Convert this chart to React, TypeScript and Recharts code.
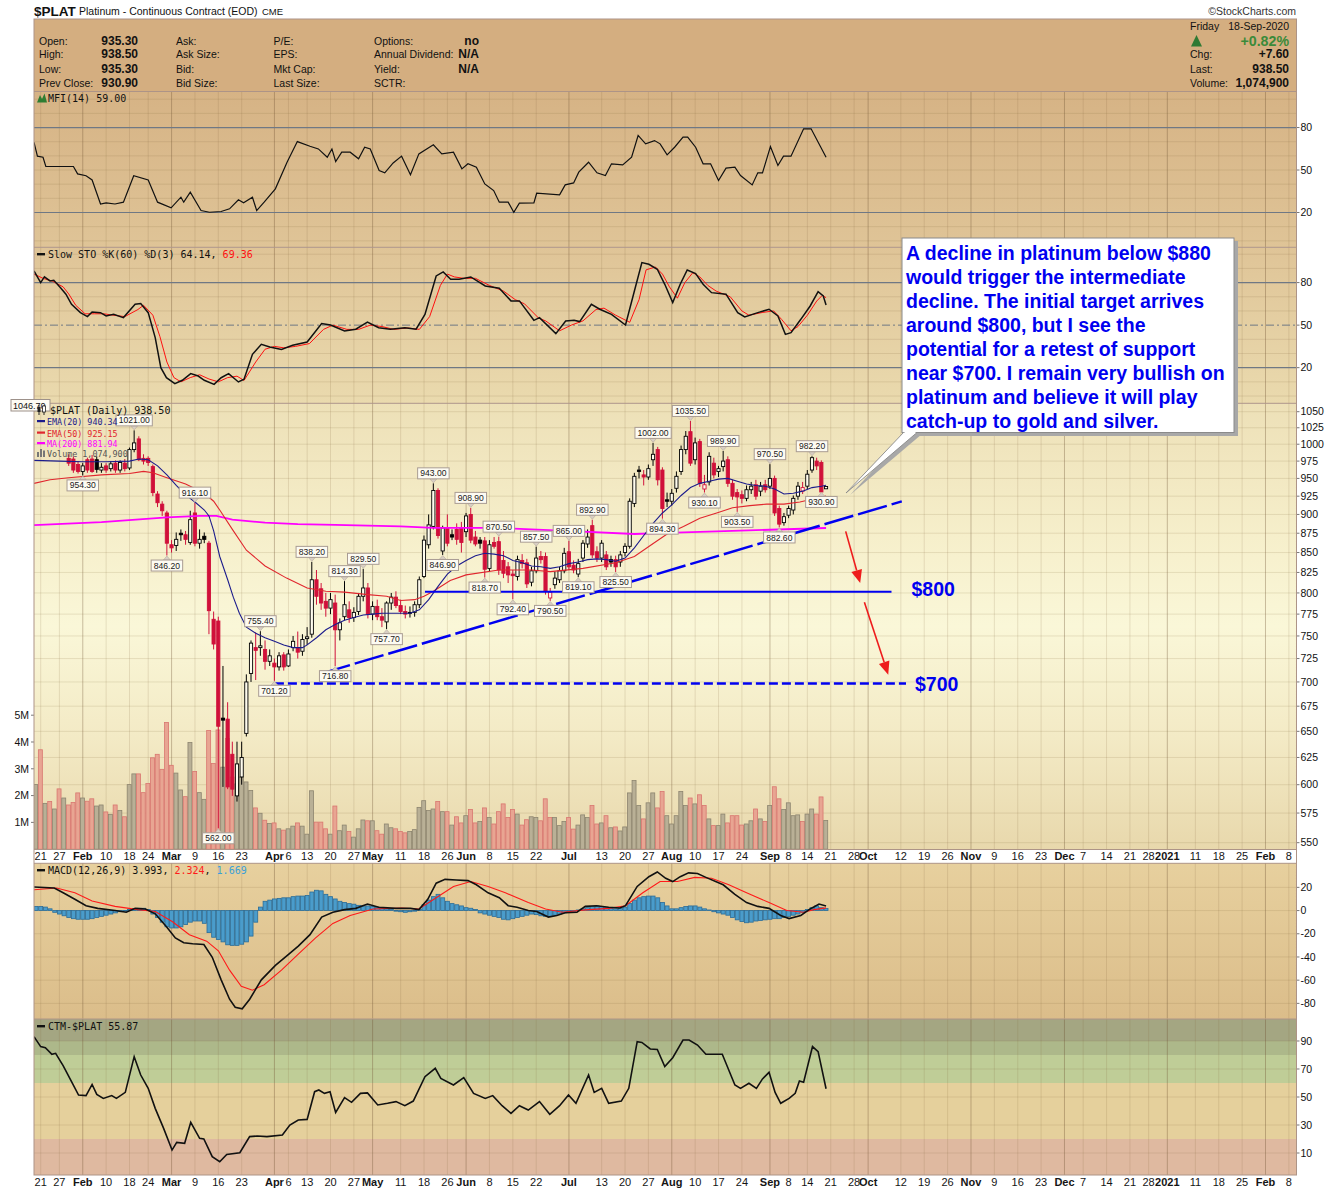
import React from 'react';
import { ComposedChart, Line, Bar, Cell, Scatter, XAxis, YAxis, ReferenceLine, ReferenceArea } from 'recharts';

// ---------- page geometry ----------
const W = 1340;
const H = 1192;
const PL = 34; // plot left
const PR = 1296.5; // plot right
const AXW = W - PR; // right axis width
const DAY_W = 4.675; // width of one trading day in pixels

const MFI_Y = 91.5, MFI_H = 155.8;
const STO_Y = 247.3, STO_H = 156;
const PX_Y = 403.3, PX_H = 446.2;
const MACD_Y = 863.3, MACD_H = 155.7;
const CTM_Y = 1019, CTM_H = 156;

const X_DOMAIN: [number, number] = [-0.428, 269.63];
const PRICE_DOMAIN: [number, number] = [544.66, 1063.8];
const OSC_DOMAIN: [number, number] = [-4.92, 105.1];
const MACD_DOMAIN: [number, number] = [-93.2, 41.0];
const CTM_DOMAIN: [number, number] = [-5.71, 105.71];
const VOL_MAX = 16.65; // millions

// ---------- data ----------
// trading-day index 0 = 17-Jan-2020, 169 = 18-Sep-2020
const FIRST_CANDLE = 7;
// [open, high, low, close] from index 7
const candles = [
  [979, 985, 968, 972], [978, 982, 958, 962], [970, 975, 957, 960], [960, 972, 954.3, 968], [977, 980, 958, 962],
  [978, 984, 958, 960], [977, 982, 958, 963], [962, 972, 958, 966], [968, 972, 958, 962], [964, 975, 960, 971],
  [972, 976, 958, 962], [962, 976, 958, 973], [972, 978, 960, 964], [965, 995, 962, 992], [992, 1021, 988, 1002],
  [1008, 1012, 975, 977], [979, 985, 970, 975], [979, 982, 968, 973], [967, 970, 925, 930], [928, 932, 910, 916],
  [914, 918, 898, 905], [902, 905, 846.2, 862], [860, 866, 850, 856], [859, 876, 852, 867], [875, 880, 865, 873],
  [873, 878, 860, 867], [863, 905, 860, 893], [902, 916.1, 858, 862], [862, 880, 855, 867], [871, 876, 862, 867],
  [862, 865, 752, 779], [769, 778, 735, 741], [767, 772, 562, 655], [663, 717, 598, 661], [662, 679, 596, 598],
  [628, 640, 590, 596], [590, 640, 585, 619], [607, 640, 600, 625], [648, 708, 645, 700], [709, 745, 700, 742],
  [737, 754, 702, 734], [737, 755.4, 728, 739], [735, 745, 713, 722], [722, 735, 717, 728], [720, 725, 701.2, 716],
  [716, 732, 712, 728], [729, 732, 712, 716], [717, 735, 716, 730], [737, 750, 733, 744], [737, 755, 725, 732],
  [733, 752, 728, 746], [747, 760, 740, 749], [752, 838.2, 748, 816], [816, 828, 786, 796], [805, 812, 780, 788],
  [790, 800, 772, 782], [782, 800, 775, 792], [788, 798, 716.8, 757], [757, 770, 745, 765], [772, 814.3, 768, 786],
  [780, 790, 765, 771], [771, 783, 766, 777], [778, 800, 774, 796], [796, 829.5, 790, 806], [806, 812, 770, 775],
  [775, 790, 768, 784], [784, 792, 768, 772], [772, 782, 760, 768], [766, 790, 757.7, 788], [788, 800, 780, 795],
  [795, 802, 782, 785], [785, 792, 775, 778], [778, 785, 770, 775], [777, 784, 771, 776], [777, 790, 772, 786],
  [786, 820, 782, 816], [820, 872, 818, 866], [860, 900, 855, 886], [884, 943, 880, 933], [933, 936, 868, 872],
  [852, 885, 846.9, 882], [882, 900, 858, 862], [873, 880, 866, 870], [880, 888, 860, 867], [882, 890, 850, 863],
  [877, 902, 870, 898], [900, 908.9, 862, 866], [870, 878, 858, 861], [866, 870, 855, 862], [865, 870, 818.7, 829],
  [830, 866, 826, 860], [863, 870, 855, 858], [864, 870.5, 822, 828], [840, 852, 818, 824], [832, 838, 812, 822],
  [823, 828, 792.4, 821], [820, 846, 815, 841], [840, 848, 830, 836], [837, 842, 806, 811], [813, 832, 808, 827],
  [827, 857.5, 824, 843], [845, 852, 836, 841], [845, 850, 798, 802], [794, 806, 790.5, 801], [810, 826, 805, 818],
  [816, 832, 812, 827], [827, 856, 824, 849], [851, 865, 828, 832], [834, 840, 824, 828], [823, 842, 819.1, 836],
  [843, 866, 838, 862], [861, 880, 856, 870], [885, 892.9, 843, 847], [851, 858, 838, 843], [843, 866, 838, 862],
  [847, 852, 828, 832], [841, 846, 832, 838], [841, 846, 825.5, 832], [838, 852, 832, 847], [850, 862, 845, 858],
  [858, 922, 855, 918], [915, 958, 910, 953], [962, 968, 950, 960], [955, 962, 940, 952], [952, 970, 948, 964],
  [977, 1002, 968, 985], [992, 996, 940, 948], [962, 966, 894.3, 908], [920, 930, 910, 918], [918, 935, 912, 929],
  [936, 960, 930, 953], [960, 998, 955, 992], [992, 1020, 985, 1012], [1019, 1035.5, 968, 972], [977, 1010, 970, 1002],
  [1004, 1008, 938, 943], [935, 955, 930.1, 941], [945, 988, 940, 982], [972, 980, 950, 955], [960, 968, 952, 964],
  [967, 989.9, 960, 975], [977, 982, 938, 943], [943, 948, 920, 925], [930, 935, 903.5, 924], [927, 933, 915, 922],
  [922, 940, 918, 934], [934, 945, 928, 939], [941, 948, 920, 925], [932, 945, 925, 939], [941, 948, 930, 934],
  [939, 970.5, 935, 950], [950, 954, 898, 902], [908, 912, 882.6, 887], [889, 902, 885, 897], [899, 912, 895, 908],
  [906, 926, 900, 922], [925, 945, 920, 939], [932, 945, 928, 937], [939, 962, 935, 956], [962, 982.2, 958, 980],
  [975, 980, 962, 968], [973, 976, 930.9, 930.9], [935.3, 938.5, 935.3, 938.5],
];

// daily volume in millions, index 0..169
const volumeM = [
  2.41, 3.71, 1.71, 1.78, 1.5, 2.25, 1.91, 1.65, 1.74, 2.1,
  1.91, 1.79, 1.88, 1.61, 1.65, 1.39, 1.3, 1.65, 1.44, 1.21,
  2.41, 2.81, 2.81, 2.11, 2.45, 3.41, 3.54, 2.98, 4.73, 3.13,
  2.84, 2.21, 1.96, 3.98, 2.9, 2.11, 1.86, 4.43, 3.2, 4.45,
  3.06, 4.13, 2.69, 2.44, 2.69, 2.51, 2.19, 1.54, 1.34, 1.08,
  0.96, 0.98, 0.76, 0.71, 0.76, 0.86, 0.98, 0.86, 0.56, 2.18,
  1.01, 1.01, 0.76, 0.56, 1.61, 0.69, 0.9, 0.66, 0.45, 0.76,
  1.09, 1.06, 1.06, 0.69, 0.56, 0.94, 0.8, 0.76, 0.66, 0.61,
  0.66, 0.73, 1.56, 1.81, 1.44, 1.5, 1.78, 1.4, 1.4, 0.9,
  1.21, 0.98, 1.25, 1.48, 0.98, 1.03, 1.54, 1.18, 0.94, 1.4,
  1.69, 1.18, 1.48, 1.31, 0.9, 1.1, 1.21, 1.18, 1.06, 1.88,
  1.18, 1.18, 0.88, 1.03, 1.18, 0.75, 0.9, 1.28, 1.18, 1.63,
  0.94, 0.98, 1.25, 0.8, 0.83, 0.68, 0.83, 2.1, 2.56, 1.63,
  1.13, 1.73, 2.1, 1.54, 2.15, 1.25, 0.94, 1.25, 2.15, 1.63,
  1.91, 1.69, 2.03, 1.63, 1.13, 0.88, 0.88, 1.31, 0.98, 1.25,
  1.25, 0.9, 0.94, 1.06, 1.5, 1.13, 1.03, 1.63, 2.33, 1.88,
  1.48, 1.73, 1.25, 1.28, 1.03, 1.31, 1.5, 1.31, 1.95, 1.07,
];
// volume bar direction for the days before the first drawn candle
const earlyVolUp = [true, false, true, false, true, false, true];

// MACD histogram, index 0..169
const macdHist = [
  3.5, 3.5, 3, 1.5, -1.5, -3, -4.5, -6, -7, -7.5,
  -7.5, -7.5, -7, -6, -5, -4, -3, -2, -1, 0,
  1, 1.5, 2, 2, 1, -3, -6, -10, -14, -15,
  -15, -14, -12, -10, -9, -9, -11, -19, -23, -25,
  -27, -29.5, -30, -30, -29, -27, -22, -10, 3, 8,
  9, 10, 10.5, 11, 11, 12, 12.5, 12.5, 13, 16,
  17.5, 17, 14, 12, 10, 8, 7, 6, 5.5, 4.5,
  4, 4, 3.5, 3, 2, 1.5, 1, 0, -1, -1.5,
  -1, 0, 1, 5, 9, 12, 14, 11, 8, 6,
  5, 4, 2.5, 2, 1, -2, -3, -4, -5, -6,
  -7.5, -8, -7, -6, -5, -4, -3, -3.5, -4.5, -5,
  -5, -4, -3, -2, -1.5, -1, 0.5, 1.5, 2.5, 3.5,
  4, 3.5, 2.5, 2, 1.5, 2, 3, 6, 9, 11,
  12, 12.5, 12.5, 11, 7, 4, 1.5, 1.5, 2.5, 3.5,
  4, 4, 3, 1.5, 0.5, -1, -2, -3, -4, -6,
  -8, -9.5, -10.5, -10, -9, -8.5, -8, -7.5, -7, -7,
  -6, -5, -4, -3, -1.5, 1, 2.5, 4, 2.5, 1.7,
];

// indicator lines read as [index, value]
const ema20Pts = [[-0.43, 976], [5, 975], [10, 974], [15, 974], [20, 975], [22, 978], [24, 977], [26, 968], [28, 955], [30, 940], [32, 927], [34, 917], [36, 906], [37, 898], [38, 878], [39.3, 845], [41, 816], [42.2, 795], [43.5, 776], [45, 760], [47, 753], [49, 748], [51, 744], [53, 740], [55, 737], [57, 737], [58, 740], [60, 748], [62, 757], [64, 763], [66, 768], [68, 771], [70, 774], [72, 775], [74, 776], [76, 776], [78, 776], [80, 776], [82, 780], [84, 792], [86, 808], [88, 823], [90, 833], [92, 840], [94, 846], [96, 849], [98, 848], [100, 846], [102, 840], [104, 837], [106, 833], [108, 832], [110, 830], [112, 832], [114, 836], [116, 838], [118, 841], [120, 842], [122, 841], [124, 839], [126, 843], [128, 856], [130, 872], [132, 888], [134, 902], [136, 913], [138, 926], [140, 937], [142, 943], [144, 946], [146, 949], [148, 950], [150, 946], [152, 942], [154, 940], [156, 939], [158, 935], [160, 928], [162, 929], [164, 932], [166, 937], [168, 939], [169, 940.3]];
const ema50Pts = [[-0.43, 943], [3, 948], [7, 951], [14, 955], [20, 957], [23, 960], [25, 958], [28, 951], [32, 942], [36, 929], [38, 918], [39.3, 906], [42, 880], [45, 853], [49, 833], [53.6, 818], [58, 806], [62, 802], [66, 801], [71, 798], [75, 796], [78, 791], [81, 792], [83, 796], [85, 802], [88.6, 815], [92, 822], [99, 828], [106, 828], [110, 826], [117, 830], [124, 837], [128, 845], [131.4, 859], [135, 874], [138.5, 884], [142, 895], [145.6, 902], [149, 909], [152.7, 912], [156.3, 914], [160, 914], [163.4, 917], [169, 925.2]];
const ma200Pts = [[-0.43, 885.7], [14, 889.6], [28, 896], [35, 898], [38.6, 898], [42, 893], [49, 889], [56, 887], [64, 886], [71, 885], [78, 884], [85, 882], [99, 882], [113.5, 878], [128, 874], [138.5, 876], [149, 878], [169, 881.9]];
const mfiPts = [[-0.43, 69.6], [0.3, 59.8], [1.5, 59], [2.1, 52.5], [8, 52.5], [8.9, 47.3], [10.7, 46], [12, 43], [13.8, 26], [15, 26.8], [16.9, 26], [18.7, 27.3], [20.9, 46], [24, 43], [26, 27.3], [28.9, 23.3], [31, 30.8], [31.6, 27.3], [33, 34.4], [35.3, 21.4], [37.1, 20.2], [39.6, 20.7], [41.4, 22.6], [43.3, 29], [44.4, 26.8], [46.3, 30.8], [47.2, 21.4], [48.8, 27.3], [51.2, 36.7], [53.7, 55.5], [55.9, 70.1], [58.6, 66.8], [60.4, 64.9], [62.3, 59], [63.3, 64.9], [64.1, 56], [65.4, 62.6], [67.2, 62.6], [69, 57.9], [70.3, 66.1], [71.5, 64.9], [73.4, 49.6], [74.6, 48], [76.4, 55], [78.2, 59.8], [80.1, 46.6], [81.9, 61.4], [85, 67.8], [86.8, 61.4], [89.3, 62.6], [91.1, 50.8], [92.4, 54.4], [94.2, 52], [96, 40.2], [97.9, 35.5], [99.1, 27.3], [101, 27.3], [102.2, 20.2], [103.4, 26.6], [106.5, 26.8], [107.1, 33.6], [112, 32.5], [113.2, 39.5], [115, 40.9], [116.1, 48.5], [118.2, 55.5], [120, 48], [121.8, 46.1], [123.1, 54.4], [125.5, 53.6], [127.4, 59], [128.8, 74.4], [130.4, 68.5], [132.3, 70.8], [133.5, 68.5], [135, 60.7], [136.6, 66.1], [138.4, 73.2], [139.4, 73.2], [141.1, 66.1], [142.7, 54.4], [144.3, 54.4], [146, 42.6], [147.6, 51.3], [149.5, 52], [150.7, 46.1], [153.2, 39.5], [154.4, 48], [155.4, 48], [157.1, 66.6], [158.7, 53.2], [159.9, 59.8], [161.5, 59.8], [164.2, 79.1], [165.8, 79.1], [169, 59]];
const stoKPts = [[-0.43, 88.2], [1, 80], [1.8, 84], [3, 81.2], [3.8, 81.6], [5.2, 76.5], [6.4, 71.8], [7.6, 64.7], [9.5, 58.8], [11, 56], [12, 59.3], [13.8, 58.8], [15, 56.5], [16.6, 57.6], [18.7, 55.3], [21.2, 64.7], [22.4, 65.2], [24, 58.8], [25.5, 41.2], [26.7, 20], [27.9, 12.9], [29.7, 8.7], [31.3, 11.1], [33.1, 15.8], [34.7, 14.1], [36, 11.1], [38.1, 8.2], [39.6, 12.9], [41.2, 15.8], [43.3, 9.9], [44.5, 11.8], [46.3, 29.4], [48.2, 36.5], [50, 34.6], [52.5, 32.9], [54.9, 35.8], [58, 38.1], [61.1, 51.1], [63, 50.1], [66, 45.9], [68.4, 47.1], [70.9, 52.2], [73.3, 48.2], [75.8, 47.1], [78.9, 48.2], [81.3, 47.1], [83.2, 57.6], [85.6, 84.7], [87.1, 87.5], [88.7, 82.4], [90.5, 82.4], [93, 84], [96.1, 77.6], [99.1, 76], [101.6, 67.1], [103.4, 67.1], [106.5, 53.4], [107.7, 55.3], [111.2, 44], [113.3, 52.9], [115.1, 53.4], [116.3, 52.5], [118.8, 64.7], [120.6, 61.2], [123.1, 57.6], [126.1, 50.1], [128, 74.1], [129.6, 94.1], [131.1, 92.9], [132.9, 89.4], [134.5, 78.8], [136.2, 65.9], [137.8, 78.8], [139.3, 88.9], [141.1, 86.4], [142.7, 78.8], [144.5, 72.9], [147.6, 71.8], [150.1, 58.8], [151.6, 55.8], [154.4, 58.8], [156.8, 61.2], [158.7, 56.5], [160.3, 43.5], [161.5, 44.7], [163.6, 54.1], [165.6, 63.5], [167.3, 73.6], [168.4, 70.6], [169, 64.14]];
const stoDPts = [[-0.43, 86], [1.5, 83], [3.5, 81], [5.8, 77], [7, 72], [8.5, 64], [10.5, 58], [12.5, 58], [14.5, 58], [16.5, 57], [19, 56], [21.8, 61], [23, 64], [25, 57], [26.5, 42], [28, 24], [29.5, 13], [31, 10], [33, 13], [35, 15], [37, 12], [39, 10], [41, 13], [43, 14], [44.5, 11], [47, 24], [49, 33], [51, 35], [53, 34], [55.5, 35], [58.5, 37], [61.5, 47], [63.5, 50], [66.5, 47], [69, 47], [71.5, 50], [74, 49], [76.5, 47], [79.5, 48], [82, 47], [84.2, 56], [86.5, 78], [88, 86], [89.5, 84], [91.5, 83], [94, 83], [97, 78], [100, 74], [102.5, 68], [104.5, 65], [107.5, 55], [109, 53], [112, 46], [114.5, 50], [117, 53], [119.8, 61], [121.5, 62], [124, 57], [127, 52], [129, 68], [130.5, 89], [132.5, 91], [134, 86], [135.5, 77], [137.2, 69], [138.8, 80], [140.5, 87], [142, 84], [143.7, 78], [145.5, 74], [148.5, 70], [151, 60], [152.5, 57], [155.5, 59], [157.8, 60], [159.5, 54], [161.5, 46], [163, 49], [165, 57], [167, 67], [168.2, 71], [169, 69.36]];
const macdPts = [[-0.43, 20.3], [3.9, 19.4], [5.8, 15.3], [8.3, 9.7], [10.7, 4.2], [13.2, 1.9], [16.9, 0], [19.3, -1.4], [21.2, 1.9], [23.4, 1.4], [25.5, -2.8], [27.9, -13.9], [29.8, -23.6], [31.6, -27.8], [33.5, -28.6], [35.9, -29.2], [37.7, -40.3], [39.6, -59.7], [41.4, -76.4], [42.6, -83.3], [44.1, -84.7], [45.7, -76.4], [48.2, -59.7], [51.2, -47.2], [53.7, -38.9], [56.1, -30.6], [58.6, -20.8], [61.1, -5.6], [63.5, -1.4], [66, 0.8], [68.4, 1.9], [70.9, 5.6], [73.3, 2.8], [77, 1.9], [80.1, 1.9], [81.9, 0.8], [83.8, 9.7], [85.6, 23.6], [87.5, 26.9], [89.9, 26.4], [92.4, 25.8], [94.2, 22.2], [96.7, 15.3], [99.1, 11.1], [101, 4.2], [102.9, 2.8], [105.3, 0], [107.1, -0.8], [109.6, -5.6], [111.4, -4.2], [113.2, -1.9], [115.7, -1.4], [117.5, 3.6], [119.9, 4.2], [122.5, 2.8], [124.9, 2.2], [126.1, 4.2], [128.6, 20.8], [131.1, 29.2], [132.9, 33.3], [134.7, 27.8], [136.2, 25], [137.8, 29.2], [139.6, 32.5], [141.5, 31.9], [143.3, 28.6], [147, 22.2], [149.5, 13.9], [152, 6.9], [154.4, 3.6], [156.8, 1.9], [159.3, -4.2], [161.1, -6.9], [163.6, -4.2], [165.6, 1.4], [167.5, 5.6], [169, 4]];
const signalPts = [[-0.43, 18], [4.4, 19.4], [8.3, 15.3], [12, 8.3], [16.9, 3.6], [21.8, 0.8], [25.5, -0.8], [29.2, -9.7], [32.8, -20.8], [36.5, -26.4], [39, -34.7], [41.4, -51.4], [43.9, -65.3], [46.3, -68.6], [48.8, -63.9], [52.5, -51.4], [56.1, -37.5], [59.8, -23.6], [63.5, -11.1], [67.2, -4.2], [72.1, 1.4], [78.2, 2.2], [81.9, 1.4], [85.6, 11.1], [89.3, 20.8], [93, 25], [96.7, 20.8], [100.4, 15.3], [105.3, 6.9], [109, 1.4], [112.6, -1.4], [117.5, 0.6], [122.5, 1.9], [126.1, 4.2], [129.8, 15.3], [133.5, 25], [137.2, 25], [140.9, 28.6], [144.5, 27.8], [148.2, 22.2], [152, 15.3], [156.8, 6.9], [160.6, 0], [164.2, -1.4], [166.4, 0.8], [169, 2.3]];
const ctmPts = [[-0.43, 93.1], [1, 86], [2, 85.2], [3.4, 80.5], [4.2, 81.2], [5.8, 72.4], [7.6, 61], [9.1, 51.4], [10.7, 51], [12, 59], [13, 51.9], [14.4, 49], [16.2, 51], [17.2, 49], [19.1, 53.3], [21, 78.8], [22.4, 65.7], [24, 56.2], [25.5, 41.9], [27.3, 27.6], [29.1, 12.1], [30.1, 17.6], [31.8, 16.9], [33.1, 31.9], [35, 20.5], [35.9, 20], [37.7, 7.4], [39.3, 3.8], [40.8, 9], [43.6, 10.2], [45.7, 21.7], [47.3, 22.1], [49.4, 21.7], [52.7, 22.9], [54.3, 30], [56.1, 33.6], [58, 34], [59.6, 53.8], [60.5, 55], [61.7, 52.6], [62.9, 53.8], [64.1, 39], [66, 49.5], [67.5, 46.2], [69.4, 52.6], [70.9, 52.9], [73.1, 44.3], [75.2, 45.5], [77, 46.7], [78.9, 43.8], [80.7, 47.1], [83.2, 64.5], [85.4, 70.5], [86.6, 63.3], [89.3, 58.6], [91.5, 63.8], [93.6, 52.6], [96.1, 49], [97.7, 51], [99.7, 43.8], [101.6, 38.3], [103.4, 43.8], [105.3, 40.7], [107.7, 46.7], [109.9, 37.6], [112, 43.8], [113.9, 51.4], [115.5, 45.5], [118.2, 65.7], [119.4, 53.3], [121, 56.2], [122.5, 45.5], [125.2, 47.1], [126.8, 56.2], [128.6, 89.5], [129.6, 89], [131.4, 84.3], [132.9, 84], [134.5, 71.7], [136.2, 78.1], [138.4, 90.7], [139.7, 90.7], [141.5, 87.1], [143.3, 80.5], [146.8, 80.5], [149.5, 58.6], [150.7, 56.2], [152.5, 59.8], [154.1, 56.2], [155.4, 62.9], [156.8, 67.6], [158.1, 53.3], [159.3, 45.5], [161.1, 49], [162.4, 52.6], [163.3, 61.4], [164.2, 60.5], [166.1, 86], [167.3, 82.4], [169, 55.87]];

// labelled highs / lows
const peaks = [
  [21, 1021, 'hi'], [34, 916.1, 'hi'], [48, 755.4, 'hi'], [59, 838.2, 'hi'], [66, 814.3, 'hi'], [70, 829.5, 'hi'],
  [85, 943, 'hi'], [93, 908.9, 'hi'], [99, 870.5, 'hi'], [107, 857.5, 'hi'], [114, 865, 'hi'], [119, 892.9, 'hi'],
  [132, 1002, 'hi'], [140, 1035.5, 'hi'], [147, 989.9, 'hi'], [157, 970.5, 'hi'], [166, 982.2, 'hi'],
  [10, 954.3, 'lo'], [28, 846.2, 'lo'], [39, 562, 'lo'], [51, 701.2, 'lo'], [64, 716.8, 'lo'], [75, 757.7, 'lo'],
  [87, 846.9, 'lo'], [96, 818.7, 'lo'], [102, 792.4, 'lo'], [110, 790.5, 'lo'], [116, 819.1, 'lo'], [124, 825.5, 'lo'],
  [134, 894.3, 'lo'], [143, 930.1, 'lo'], [150, 903.5, 'lo'], [159, 882.6, 'lo'], [168, 930.9, 'lo'],
];

// hand-drawn annotations [index, price]
const trendLine = [[61, 708.8], [185.2, 917.8]];
const level800 = [[83.2, 801.5], [183, 801.5]];
const level700 = [[51.1, 698.5], [186.1, 698.5]];
const arrows = [
  [[173.2, 877.4], [176.3, 812.1]],
  [[177.2, 788.8], [182.3, 707.7]],
];

// date axis: [trading-day index, label, month?]
const dateTicks: [number, string, boolean?][] = [
  [1, '21'], [5, '27'], [10, 'Feb', true], [15, '10'], [20, '18'], [24, '24'], [29, 'Mar', true], [34, '9'],
  [39, '16'], [44, '23'], [51, 'Apr', true], [54, '6'], [58, '13'], [63, '20'], [68, '27'], [72, 'May', true],
  [78, '11'], [83, '18'], [88, '26'], [92, 'Jun', true], [97, '8'], [102, '15'], [107, '22'], [114, 'Jul', true],
  [121, '13'], [126, '20'], [131, '27'], [136, 'Aug', true], [141, '10'], [146, '17'], [151, '24'], [157, 'Sep', true],
  [161, '8'], [165, '14'], [170, '21'], [175, '28'], [178, 'Oct', true], [185, '12'], [190, '19'], [195, '26'],
  [200, 'Nov', true], [205, '9'], [210, '16'], [215, '23'], [220, 'Dec', true], [224, '7'], [229, '14'], [234, '21'],
  [238, '28'], [242, '2021', true], [248, '11'], [253, '18'], [258, '25'], [263, 'Feb', true], [268, '8'],
];
const priceTicks = [550, 575, 600, 625, 650, 675, 700, 725, 750, 775, 800, 825, 850, 875, 900, 925, 950, 975, 1000, 1025, 1050];
const oscTicks = [20, 50, 80];
const macdTicks = [-80, -60, -40, -20, 0, 20];
const ctmTicks = [10, 30, 50, 70, 90];
const volTicks = [1, 2, 3, 4, 5];
const ctmZones = [[90, 105.71, '#a4a682'], [80, 90, '#adb88a'], [60, 80, '#bfcd97'], [20, 60, '#e5d09c'], [-5.71, 20, '#dfb9a0']];

// ---------- derived tables ----------
const rows = volumeM.map((vol, i) => {
  const k = candles[i - FIRST_CANDLE];
  const prev = candles[i - FIRST_CANDLE - 1];
  const pc = k ? (prev ? prev[3] : k[0]) : null;
  const up = k ? k[3] >= pc : earlyVolUp[i];
  return {
    i, vol, up, hist: macdHist[i],
    range: k ? [k[2], k[1]] : null,
    o: k ? k[0] : null, h: k ? k[1] : null, l: k ? k[2] : null, c: k ? k[3] : null, pc,
  };
});
const toXY = (pts: number[][]) => pts.map(([i, v]) => ({ i, v }));
const peakData = peaks.map(([i, p, kind]) => ({ i, p, kind }));
const tickIdx = dateTicks.map((t) => t[0]);
const tickInfo = new Map(dateTicks.map((t) => [t[0], t]));

// ---------- styles ----------
const FONT = '"Liberation Sans", Arial, sans-serif';
const MONO = '"DejaVu Sans Mono", monospace';
const RED = '#d0103a';
const HOLLOW = '#fffcee';
const WEEK_GRID = 'rgba(130,100,60,0.17)';
const MONTH_GRID = 'rgba(110,80,50,0.36)';
const H_GRID = 'rgba(130,100,60,0.16)';
const LEVEL = '#6f7884';
const AXIS_TICK = { fontSize: 10.5, fill: '#111', fontFamily: FONT };
const AXIS_LINE = { stroke: '#b79e95', strokeDasharray: '1 2' };
const BLUE = '#0000f0';

const M_AXIS = { top: 0, right: 0, bottom: 0, left: PL };
const M_PLAIN = { top: 0, right: AXW, bottom: 0, left: PL };

// ---------- shapes ----------
const CandleShape = (p: any) => {
  const { x, y, width, height, payload } = p;
  if (!payload || payload.o == null || !isFinite(y) || !isFinite(height)) return <g />;
  const { o, h, l, c, pc } = payload;
  const top = Math.min(y, y + height);
  const span = Math.abs(height);
  const lh = Math.log(h);
  const lr = lh - Math.log(l) || 1e-6;
  const toY = (v: number) => top + (span * (lh - Math.log(v))) / lr;
  const cx = x + width / 2;
  const color = c >= pc ? '#000' : RED;
  const hollow = c > o;
  const y1 = toY(Math.max(o, c));
  const y2 = toY(Math.min(o, c));
  return (
    <g>
      <line x1={cx} x2={cx} y1={top} y2={top + span} stroke={color} strokeWidth={1} />
      <rect x={cx - 1.6} y={y1} width={3.2} height={Math.max(y2 - y1, 0.9)} fill={hollow ? HOLLOW : color} stroke={color} strokeWidth={0.9} />
    </g>
  );
};

// bars drawn a full trading day wide, centred on the day
const dayRect = (p: any, fill: string, stroke: string) => {
  const { x, y, width, height } = p;
  if (![x, y, width, height].every((v) => isFinite(v))) return <g />;
  const cx = x + width / 2;
  const top = Math.min(y, y + height);
  return (
    <rect x={cx - DAY_W / 2 + 0.35} y={top} width={DAY_W - 0.7} height={Math.max(Math.abs(height), 0.6)}
      fill={fill} stroke={stroke} strokeWidth={0.8} />
  );
};
const VolShape = (p: any) =>
  p.payload && p.payload.up ? dayRect(p, '#b9b096', '#8c846f') : dayRect(p, '#e8a592', '#d97670');
const HistShape = (p: any) => dayRect(p, '#4a9ccb', '#2a6c98');

const PeakLabel = (p: any) => {
  const { cx, cy, payload } = p;
  if (!isFinite(cx) || !isFinite(cy)) return <g />;
  const txt = payload.p.toFixed(2);
  const w = txt.length * 4.75 + 3;
  const h = 11;
  const hi = payload.kind === 'hi';
  const base = hi ? cy - 4.5 : cy + 4.5;
  const boxY = hi ? base - h : base;
  const tip = hi ? cy - 0.5 : cy + 0.5;
  return (
    <g>
      <polygon points={`${cx - 3.5},${base} ${cx + 3.5},${base} ${cx},${tip}`} fill="#d9cfc4" stroke="#b3a79c" strokeWidth={0.6} />
      <rect x={cx - w / 2} y={boxY} width={w} height={h} fill="#fdfbf2" stroke="#a99c93" strokeWidth={1} />
      <text x={cx} y={boxY + 8.6} textAnchor="middle" fontSize={8.6} fontFamily={FONT} fill="#1a1a1a">{txt}</text>
    </g>
  );
};

const ArrowShape = (p: any) => {
  const { x1, y1, x2, y2 } = p;
  if (![x1, y1, x2, y2].every((v) => isFinite(v))) return <g />;
  const a = Math.atan2(y2 - y1, x2 - x1);
  const L = 13, hw = 5.5;
  const bx = x2 - L * Math.cos(a), by = y2 - L * Math.sin(a);
  const pts = `${x2},${y2} ${bx + hw * Math.sin(a)},${by - hw * Math.cos(a)} ${bx - hw * Math.sin(a)},${by + hw * Math.cos(a)}`;
  return (
    <g>
      <line x1={x1} y1={y1} x2={bx} y2={by} stroke="#ee1c1c" strokeWidth={1.6} />
      <polygon points={pts} fill="#ee1c1c" />
    </g>
  );
};

const DateTick = (p: any) => {
  const { x, y, payload } = p;
  const t = tickInfo.get(payload.value);
  if (!t) return <g />;
  return (
    <text x={x} y={y + 10.5} textAnchor="middle" fontSize={11} fontWeight={t[2] ? 700 : 400} fontFamily={FONT} fill="#151515">
      {t[1]}
    </text>
  );
};

// ---------- shared chart parts ----------
const hiddenX = () => <XAxis type="number" dataKey="i" domain={X_DOMAIN} allowDataOverflow hide />;
const dateX = () => (
  <XAxis type="number" dataKey="i" domain={X_DOMAIN} allowDataOverflow ticks={tickIdx} interval={0} height={14}
    tickSize={0} tickMargin={0} axisLine={false} tickLine={false} tick={<DateTick />} />
);
const rightAxis = (domain: any, ticks: number[], extra: any = {}) => (
  <YAxis orientation="right" width={AXW} type="number" domain={domain} allowDataOverflow ticks={ticks} interval={0}
    tickSize={3} tickMargin={1} tick={AXIS_TICK} tickLine={{ stroke: '#777' }} axisLine={AXIS_LINE} {...extra} />
);
const vGrid = () =>
  dateTicks.map(([i, , month]) => (
    <ReferenceLine key={`v${i}`} x={i} stroke={month ? MONTH_GRID : WEEK_GRID} strokeWidth={1} />
  ));
const hGrid = (vals: number[], color = H_GRID) =>
  vals.map((v) => <ReferenceLine key={`h${v}`} y={v} stroke={color} strokeWidth={1} />);

const Layer = ({ top, children }: any) => (
  <div style={{ position: 'absolute', left: 0, top }}>{children}</div>
);

function GridChart({ height, domain, log, children }: any) {
  return (
    <ComposedChart width={W} height={height} data={rows} margin={M_PLAIN}>
      {hiddenX()}
      <YAxis type="number" domain={domain} scale={log ? 'log' : 'auto'} allowDataOverflow hide />
      {children}
    </ComposedChart>
  );
}

const lineProps = { dataKey: 'v', type: 'linear' as const, dot: false, activeDot: false, isAnimationActive: false };

// ---------- overlay text helpers ----------
const T = ({ x, y, s = 10.5, b = false, c = '#111', a = 'start', f = FONT, children }: any) => (
  <text x={x} y={y} fontSize={s} fontWeight={b ? 700 : 400} fill={c} textAnchor={a} fontFamily={f}>{children}</text>
);

const quoteRows = [
  ['Open:', '935.30', 'Ask:', 'P/E:', 'Options:', 'no'],
  ['High:', '938.50', 'Ask Size:', 'EPS:', 'Annual Dividend:', 'N/A'],
  ['Low:', '935.30', 'Bid:', 'Mkt Cap:', 'Yield:', 'N/A'],
  ['Prev Close:', '930.90', 'Bid Size:', 'Last Size:', 'SCTR:', ''],
];
const quoteBase = [44.5, 58.3, 73, 87];
const summaryRows = [['Chg:', '+7.60'], ['Last:', '938.50'], ['Volume:', '1,074,900']];
const calloutLines = [
  'A decline in platinum below $880',
  'would trigger the intermediate',
  'decline. The initial target arrives',
  'around $800, but I see the',
  'potential for a retest of support',
  'near $700. I remain very bullish on',
  'platinum and believe it will play',
  'catch-up to gold and silver.',
];

export default function App() {
  return (
    <div style={{ position: 'absolute', left: 0, top: 0, width: W, height: H, background: '#fff', overflow: 'hidden' }}>
      {/* panel backgrounds */}
      <svg width={W} height={H} style={{ position: 'absolute', left: 0, top: 0 }}>
        <defs>
          <linearGradient id="gMfi" x1="0" y1="0" x2="0" y2="1">
            <stop offset="0" stopColor="#d6b385" />
            <stop offset="1" stopColor="#dfc497" />
          </linearGradient>
          <linearGradient id="gSto" x1="0" y1="0" x2="0" y2="1">
            <stop offset="0" stopColor="#dfc497" />
            <stop offset="1" stopColor="#eadaae" />
          </linearGradient>
          <linearGradient id="gPx" x1="0" y1="0" x2="0" y2="1">
            <stop offset="0" stopColor="#ede0b7" />
            <stop offset="0.3" stopColor="#f6efcb" />
            <stop offset="0.5" stopColor="#faf7d8" />
            <stop offset="0.75" stopColor="#f3eac5" />
            <stop offset="1" stopColor="#e8d8ac" />
          </linearGradient>
          <linearGradient id="gMacd" x1="0" y1="0" x2="0" y2="1">
            <stop offset="0" stopColor="#e7d09e" />
            <stop offset="1" stopColor="#dbbd8a" />
          </linearGradient>
        </defs>
        <rect x={PL} y={19} width={PR - PL} height={MFI_Y - 19} fill="#d4ae80" />
        <rect x={PL} y={MFI_Y} width={PR - PL} height={MFI_H} fill="url(#gMfi)" />
        <rect x={PL} y={STO_Y} width={PR - PL} height={STO_H} fill="url(#gSto)" />
        <rect x={PL} y={PX_Y} width={PR - PL} height={PX_H} fill="url(#gPx)" />
        <rect x={PL} y={MACD_Y} width={PR - PL} height={MACD_H} fill="url(#gMacd)" />
      </svg>

      {/* MFI */}
      <Layer top={MFI_Y}>
        <GridChart height={MFI_H} domain={OSC_DOMAIN}>
          {vGrid()}
          {hGrid([0, 10, 30, 40, 50, 60, 70, 90, 100])}
          <ReferenceLine y={80} stroke={LEVEL} strokeWidth={1.2} />
          <ReferenceLine y={20} stroke={LEVEL} strokeWidth={1.2} />
        </GridChart>
      </Layer>
      <Layer top={MFI_Y}>
        <ComposedChart width={W} height={MFI_H} data={rows} margin={M_AXIS}>
          {hiddenX()}
          {rightAxis(OSC_DOMAIN, oscTicks)}
          <Line {...lineProps} data={toXY(mfiPts)} stroke="#111" strokeWidth={1.2} />
        </ComposedChart>
      </Layer>

      {/* Slow STO */}
      <Layer top={STO_Y}>
        <GridChart height={STO_H} domain={OSC_DOMAIN}>
          {vGrid()}
          {hGrid([0, 10, 30, 40, 60, 70, 90, 100])}
          <ReferenceLine y={80} stroke={LEVEL} strokeWidth={1.2} />
          <ReferenceLine y={20} stroke={LEVEL} strokeWidth={1.2} />
          <ReferenceLine y={50} stroke={LEVEL} strokeWidth={1} strokeDasharray="8 3 2 3" />
        </GridChart>
      </Layer>
      <Layer top={STO_Y}>
        <ComposedChart width={W} height={STO_H} data={rows} margin={M_AXIS}>
          {hiddenX()}
          {rightAxis(OSC_DOMAIN, oscTicks)}
          <Line {...lineProps} data={toXY(stoDPts)} stroke="#ff1010" strokeWidth={1} />
          <Line {...lineProps} data={toXY(stoKPts)} stroke="#111" strokeWidth={1.5} />
        </ComposedChart>
      </Layer>

      {/* price grid */}
      <Layer top={PX_Y}>
        <GridChart height={PX_H} domain={PRICE_DOMAIN} log>
          {vGrid()}
          {hGrid(priceTicks)}
        </GridChart>
      </Layer>
      {/* volume */}
      <Layer top={PX_Y}>
        <ComposedChart width={W} height={PX_H} data={rows} margin={{ top: 0, right: AXW, bottom: 0, left: 0 }}>
          {hiddenX()}
          <YAxis orientation="left" width={PL} type="number" domain={[0, VOL_MAX]} allowDataOverflow ticks={volTicks}
            interval={0} tickSize={3} tickMargin={2} tick={AXIS_TICK} tickLine={{ stroke: '#777' }} axisLine={false}
            tickFormatter={(v: number) => `${v}M`} />
          <Bar dataKey="vol" barSize={4} isAnimationActive={false} shape={VolShape} />
        </ComposedChart>
      </Layer>
      {/* price */}
      <Layer top={PX_Y}>
        <ComposedChart width={W} height={PX_H + 14} data={rows} margin={M_AXIS}>
          {dateX()}
          {rightAxis(PRICE_DOMAIN, priceTicks, { scale: 'log' })}
          <Line {...lineProps} data={toXY(ma200Pts)} stroke="#ff00ff" strokeWidth={1.8} />
          <Bar dataKey="range" barSize={4} isAnimationActive={false} shape={CandleShape} />
          <Line {...lineProps} data={toXY(ema50Pts)} stroke="#e0262e" strokeWidth={1.1} />
          <Line {...lineProps} data={toXY(ema20Pts)} stroke="#1c1c8c" strokeWidth={1.1} />
          <ReferenceLine segment={level800.map(([x, y]) => ({ x, y }))} stroke={BLUE} strokeWidth={2} />
          <ReferenceLine segment={level700.map(([x, y]) => ({ x, y }))} stroke={BLUE} strokeWidth={2.5} strokeDasharray="9 4" />
          <ReferenceLine segment={trendLine.map(([x, y]) => ({ x, y }))} stroke={BLUE} strokeWidth={2.5} strokeDasharray="30 5" />
          {arrows.map((seg, k) => (
            <ReferenceLine key={`ar${k}`} segment={seg.map(([x, y]) => ({ x, y }))} stroke="#ee1c1c" shape={ArrowShape} />
          ))}
          <Scatter data={peakData} dataKey="p" isAnimationActive={false} shape={PeakLabel} />
        </ComposedChart>
      </Layer>

      {/* MACD */}
      <Layer top={MACD_Y}>
        <GridChart height={MACD_H} domain={MACD_DOMAIN}>
          {vGrid()}
          {hGrid(macdTicks)}
        </GridChart>
      </Layer>
      <Layer top={MACD_Y}>
        <ComposedChart width={W} height={MACD_H} data={rows} margin={M_AXIS}>
          {hiddenX()}
          {rightAxis(MACD_DOMAIN, macdTicks)}
          <Bar dataKey="hist" barSize={4} isAnimationActive={false} shape={HistShape} />
          <Line {...lineProps} data={toXY(signalPts)} stroke="#ff1a1a" strokeWidth={1.1} />
          <Line {...lineProps} data={toXY(macdPts)} stroke="#111" strokeWidth={1.6} />
        </ComposedChart>
      </Layer>

      {/* CTM */}
      <Layer top={CTM_Y}>
        <GridChart height={CTM_H} domain={CTM_DOMAIN}>
          {ctmZones.map(([y1, y2, fill]) => (
            <ReferenceArea key={`z${y1}`} y1={y1} y2={y2} fill={fill as string} fillOpacity={1} stroke="none" />
          ))}
          {vGrid()}
          {hGrid(ctmTicks)}
        </GridChart>
      </Layer>
      <Layer top={CTM_Y}>
        <ComposedChart width={W} height={CTM_H + 14} data={rows} margin={M_AXIS}>
          {dateX()}
          {rightAxis(CTM_DOMAIN, ctmTicks)}
          <Line {...lineProps} data={toXY(ctmPts)} stroke="#111" strokeWidth={1.6} />
        </ComposedChart>
      </Layer>

      {/* overlays: header, legends, borders, annotations */}
      <svg width={W} height={H} style={{ position: 'absolute', left: 0, top: 0, pointerEvents: 'none' }}>
        {/* title row */}
        <T x={34} y={16} s={13.5} b>$PLAT</T>
        <T x={79} y={15} s={10.5}>Platinum - Continuous Contract (EOD)</T>
        <T x={262} y={15} s={9.5}>CME</T>
        <T x={1296} y={15} s={10.5} a="end" c="#333">©StockCharts.com</T>

        {/* quote block */}
        {quoteRows.map((r, k) => (
          <g key={`q${k}`}>
            <T x={39} y={quoteBase[k]}>{r[0]}</T>
            <T x={138} y={quoteBase[k]} s={12} b a="end">{r[1]}</T>
            <T x={176} y={quoteBase[k]}>{r[2]}</T>
            <T x={273.5} y={quoteBase[k]}>{r[3]}</T>
            <T x={374} y={quoteBase[k]}>{r[4]}</T>
            <T x={479} y={quoteBase[k]} s={12} b a="end">{r[5]}</T>
          </g>
        ))}
        <T x={1190} y={29.7}>Friday</T>
        <T x={1289} y={29.7} a="end">18-Sep-2020</T>
        <polygon points="1191,46.5 1202,46.5 1196.5,35" fill="#2f7a33" />
        <T x={1289} y={46} s={14.2} b a="end" c="#3a8a3a">+0.82%</T>
        {summaryRows.map((r, k) => (
          <g key={`s${k}`}>
            <T x={1190} y={quoteBase[k + 1]}>{r[0]}</T>
            <T x={1289} y={quoteBase[k + 1]} s={12} b a="end">{r[1]}</T>
          </g>
        ))}

        {/* panel borders */}
        <rect x={PL} y={19} width={PR - PL} height={CTM_Y + CTM_H - 19} fill="none" stroke="#ad9487" strokeWidth={1} />
        {[MFI_Y, STO_Y, PX_Y, PX_Y + PX_H, MACD_Y, CTM_Y].map((y) => (
          <line key={`b${y}`} x1={PL} x2={PR} y1={y} y2={y} stroke="#ad9487" strokeWidth={1} />
        ))}

        {/* panel legends */}
        <polygon points="37,102.5 40,95 42,99 44.5,93.5 47,102.5" fill="#2e7d32" />
        <T x={48} y={101.5} s={10} f={MONO}>MFI(14) 59.00</T>

        <rect x={37} y={253} width={8} height={2.4} fill="#111" />
        <text x={48} y={257.5} fontSize={10} fontFamily={MONO} fill="#111">
          Slow STO %K(60) %D(3) 64.14, <tspan fill="#ff1010">69.36</tspan>
        </text>

        <rect x={11} y={399.5} width={39} height={11.5} fill="#fdfbf3" stroke="#9d918a" />
        <T x={13} y={408.6} s={9} f={FONT}>1046.70</T>
        <g>
          <line x1={39} x2={39} y1={405} y2={415} stroke="#222" />
          <rect x={37.5} y={407} width={3} height={5} fill="#222" />
          <line x1={44} x2={44} y1={405} y2={415} stroke="#222" />
          <rect x={42.5} y={406} width={3} height={6} fill="#fff" stroke="#222" strokeWidth={0.8} />
        </g>
        <T x={50} y={414.3} s={10} f={MONO}>$PLAT (Daily) 938.50</T>
        <rect x={37} y={420} width={8} height={2.2} fill="#1c1c8c" />
        <T x={47} y={425} s={8.4} f={MONO} c="#1c1c8c">EMA(20) 940.34</T>
        <rect x={37} y={431.5} width={8} height={2.2} fill="#e0262e" />
        <T x={47} y={436.5} s={8.4} f={MONO} c="#e0262e">EMA(50) 925.15</T>
        <rect x={37} y={442} width={8} height={2.2} fill="#ff00ff" />
        <T x={47} y={447} s={8.4} f={MONO} c="#ff00ff">MA(200) 881.94</T>
        <g fill="#777">
          <rect x={37} y={452} width={2} height={5} />
          <rect x={40} y={449} width={2} height={8} />
          <rect x={43} y={450.5} width={2} height={6.5} />
        </g>
        <T x={47} y={457} s={8.4} f={MONO} c="#555">Volume 1,074,900</T>

        <rect x={37} y={869} width={8} height={2.4} fill="#111" />
        <text x={48} y={873.5} fontSize={10} fontFamily={MONO} fill="#111">
          MACD(12,26,9) 3.993, <tspan fill="#ff1a1a">2.324</tspan>, <tspan fill="#3aa0d8">1.669</tspan>
        </text>

        <rect x={37} y={1025} width={8} height={2.4} fill="#111" />
        <T x={48} y={1029.5} s={10} f={MONO}>CTM-$PLAT 55.87</T>

        {/* target labels */}
        <T x={911.5} y={596.2} s={19.5} b c={BLUE}>$800</T>
        <T x={915} y={690.5} s={19.5} b c={BLUE}>$700</T>

        {/* callout */}
        <polygon points="907,434 922,434 850,495" fill="#a8a8a8" />
        <rect x={905} y={241} width={333} height={195} fill="#a8a8a8" />
        <rect x={902} y={238} width={332} height={194.5} fill="#fff" stroke="#8a8a8a" strokeWidth={1} />
        <polygon points="903.5,432.5 917,432.5 846,493" fill="#fff" stroke="#8a8a8a" strokeWidth={0.9} />
        <line x1={904.5} x2={915.5} y1={432.5} y2={432.5} stroke="#fff" strokeWidth={1.5} />
        {calloutLines.map((ln, k) => (
          <T key={`c${k}`} x={906} y={260 + k * 24} s={19.5} b c={BLUE}>{ln}</T>
        ))}
      </svg>
    </div>
  );
}
